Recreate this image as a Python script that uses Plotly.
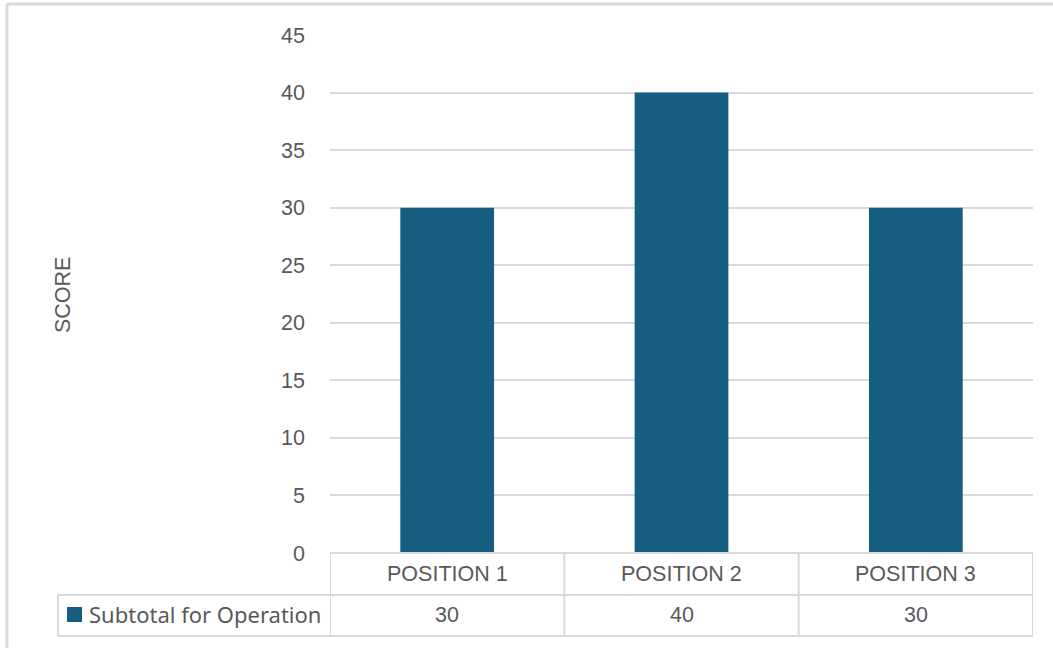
import plotly.graph_objects as go

categories = ["POSITION 1", "POSITION 2", "POSITION 3"]
values = [30, 40, 30]
series_name = "Subtotal for Operation"
y_ticks = [0, 5, 10, 15, 20, 25, 30, 35, 40, 45]

W, H = 1053, 648
L, R, T, B = 330, 20, 35, 95
pw, ph = W - L - R, H - T - B

def px(xp):
    return (xp - L) / pw

def py(yp):
    return (H - B - yp) / ph

BAR = "#165e80"
GRID = "#d9d9d9"
TXT = "#595959"
FONT = "Liberation Sans, Arial, sans-serif"

fig = go.Figure()
fig.add_trace(go.Bar(x=list(range(len(categories))), y=values, name=series_name,
                     marker=dict(color=BAR, line=dict(width=0)), width=0.4))

shapes = []
line = dict(color=GRID, width=2)
# table horizontal lines
shapes.append(dict(type="line", xref="paper", yref="paper", x0=0, x1=1, y0=py(553), y1=py(553), line=line))
shapes.append(dict(type="line", xref="paper", yref="paper", x0=px(58), x1=1, y0=py(595), y1=py(595), line=line))
shapes.append(dict(type="line", xref="paper", yref="paper", x0=px(58), x1=1, y0=py(636), y1=py(636), line=line))
# vertical lines
for xv in [-0.5 + i for i in range(len(categories) + 1)]:
    shapes.append(dict(type="line", xref="x", yref="paper", x0=xv, x1=xv, y0=py(553), y1=py(636), line=line))
shapes.append(dict(type="line", xref="paper", yref="paper", x0=px(58), x1=px(58), y0=py(595), y1=py(636), line=line))
# legend key
shapes.append(dict(type="rect", xref="paper", yref="paper", x0=px(67), x1=px(82), y0=py(607), y1=py(622),
                   fillcolor=BAR, line=dict(width=0)))
# outer frame
frame = dict(color=GRID, width=3)
shapes.append(dict(type="line", xref="paper", yref="paper", x0=px(7), x1=px(W + 5), y0=py(4), y1=py(4), line=frame))
shapes.append(dict(type="line", xref="paper", yref="paper", x0=px(7), x1=px(7), y0=py(4), y1=py(H + 5), line=frame))

annotations = []
for i, (c, v) in enumerate(zip(categories, values)):
    annotations.append(dict(x=i, y=py(574), xref="x", yref="paper", text=c, showarrow=False,
                            font=dict(size=21.5, color=TXT, family=FONT), xanchor="center", yanchor="middle"))
    annotations.append(dict(x=i, y=py(615), xref="x", yref="paper", text=str(v), showarrow=False,
                            font=dict(size=21.5, color=TXT, family=FONT), xanchor="center", yanchor="middle"))
annotations.append(dict(x=px(87), y=py(614), xref="paper", yref="paper", text=series_name, showarrow=False,
                        font=dict(size=22, color=TXT, family="Noto Sans, sans-serif"), xanchor="left", yanchor="middle"))
annotations.append(dict(x=px(63), y=py(295), xref="paper", yref="paper", text="SCORE", showarrow=False,
                        textangle=-90, font=dict(size=21.5, color=TXT, family=FONT), xanchor="center", yanchor="middle"))

fig.update_layout(
    width=W, height=H,
    margin=dict(l=L, r=R, t=T, b=B),
    paper_bgcolor="white", plot_bgcolor="white",
    showlegend=False,
    shapes=shapes, annotations=annotations,
    xaxis=dict(range=[-0.5, len(categories) - 0.5], showticklabels=False, showgrid=False,
               zeroline=False, showline=False, ticks=""),
    yaxis=dict(range=[0, 45], tickvals=y_ticks, showgrid=True, gridcolor=GRID, gridwidth=2,
               zeroline=False, showline=False, ticks="", ticklabelstandoff=24,
               tickfont=dict(size=21.5, color=TXT, family=FONT)),
)

fig.write_html("out.html")
